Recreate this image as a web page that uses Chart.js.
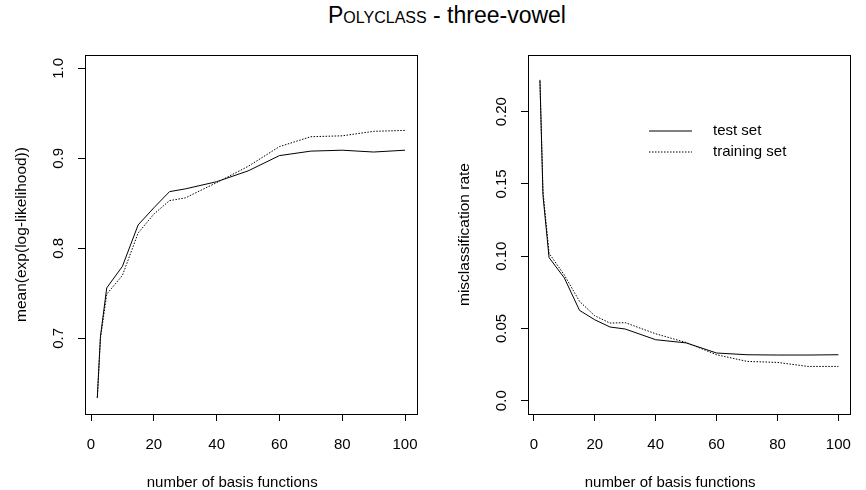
<!DOCTYPE html>
<html>
<head>
<meta charset="utf-8">
<title>POLYCLASS - three-vowel</title>
<script src="https://cdn.jsdelivr.net/npm/chart.js@4.4.0/dist/chart.umd.min.js"></script>
<style>
    html, body { margin: 0; padding: 0; background: #fff; }
    #wrap { position: relative; width: 866px; height: 490px; font-family: "Liberation Sans", Arial, sans-serif; color: #000; }
    #title { position: absolute; top: 0; left: 14px; width: 866px; text-align: center; font-size: 23px; line-height: 30px; }
    #title .sc { font-size: 16px; }
    .panel { position: absolute; top: 0; width: 433px; height: 490px; }
</style>
</head>
<body>
<div id="wrap">
    <div id="title">P<span class="sc">OLYCLASS</span> - three-vowel</div>
    <div class="panel" style="left:0"><canvas id="likChart"></canvas></div>
    <div class="panel" style="left:433px"><canvas id="errChart"></canvas></div>
</div>

<script>
// ---------------------------------------------------------
// Data
// ---------------------------------------------------------
const basisCounts = [2, 3, 5, 10, 15, 20, 25, 30, 40, 50, 60, 70, 80, 90, 100];

// left panel: mean(exp(log-likelihood))
const likTest  = [0.634, 0.702, 0.756, 0.780, 0.826, 0.845, 0.863, 0.866, 0.874, 0.886, 0.903, 0.908, 0.909, 0.907, 0.909];
const likTrain = [0.634, 0.700, 0.749, 0.770, 0.817, 0.838, 0.853, 0.856, 0.873, 0.891, 0.913, 0.924, 0.925, 0.930, 0.931];

// right panel: misclassification rate
const errTest  = [0.222, 0.142, 0.099, 0.085, 0.0625, 0.056, 0.051, 0.0496, 0.0422, 0.040, 0.033, 0.0318, 0.0316, 0.0316, 0.0318];
const errTrain = [0.221, 0.145, 0.102, 0.087, 0.0687, 0.0588, 0.0537, 0.054, 0.0463, 0.0403, 0.0318, 0.0272, 0.0265, 0.0237, 0.0237];

const seriesNames = ['test set', 'training set'];

// axis ticks and ranges
const xTicks = [0, 20, 40, 60, 80, 100];
const xRange = [-1.92, 103.92];
const xTitle = 'number of basis functions';
const likTicks = [0.7, 0.8, 0.9, 1.0];
const likTickLabels = ['0.7', '0.8', '0.9', '1.0'];
const likRange = [0.6159, 1.0148];
const errTicks = [0, 0.05, 0.10, 0.15, 0.20];
const errTickLabels = ['0.0', '0.05', '0.10', '0.15', '0.20'];
const errRange = [-0.0092, 0.2392];

// ---------------------------------------------------------
// Shared look
// ---------------------------------------------------------
const FONT = '"Liberation Sans", Arial, sans-serif';
Chart.defaults.font.family = FONT;
Chart.defaults.font.size = 15;
Chart.defaults.color = '#000';

// Draws the R style box, rotated y tick labels, x title and the plain legend
const rPlot = {
    id: 'rPlot',
    afterDraw(chart, args, opts) {
        const ctx = chart.ctx;
        const a = chart.chartArea;
        const y = chart.scales.y;
        ctx.save();

        // box round the plot region
        ctx.strokeStyle = '#000';
        ctx.lineWidth = 1;
        ctx.strokeRect(Math.round(a.left) + 0.5, Math.round(a.top) + 0.5,
            Math.round(a.right - a.left), Math.round(a.bottom - a.top));

        // y tick labels, reading bottom to top like R
        ctx.font = '15px ' + FONT;
        ctx.fillStyle = '#000';
        ctx.textAlign = 'center';
        ctx.textBaseline = 'alphabetic';
        opts.values.forEach((v, i) => {
            ctx.save();
            ctx.translate(a.left - 22, y.getPixelForValue(v));
            ctx.rotate(-Math.PI / 2);
            ctx.fillText(opts.labels[i], 0, 0);
            ctx.restore();
        });

        // x axis title (sits a bit left of the box centre in the original)
        ctx.fillText(xTitle, (a.left + a.right) / 2 - 19, 487);

        // legend without a frame
        if (opts.legend) {
            ctx.textAlign = 'left';
            ctx.textBaseline = 'middle';
            chart.data.datasets.forEach((ds, i) => {
                const ly = a.top + 76 + i * 21;
                ctx.beginPath();
                ctx.setLineDash(ds.borderDash || []);
                ctx.moveTo(a.left + 121, ly);
                ctx.lineTo(a.left + 164, ly);
                ctx.stroke();
                ctx.setLineDash([]);
                ctx.fillText(ds.label, a.left + 185, ly);
            });
        }
        ctx.restore();
    }
};

function makePanel(id, testVals, trainVals, yRange, yTicks, yLabels, yTitle, area, showLegend) {
    const toPoints = vals => basisCounts.map((x, i) => ({ x: x, y: vals[i] }));
    return new Chart(document.getElementById(id), {
        type: 'line',
        data: {
            datasets: [{
                label: seriesNames[0],
                data: toPoints(testVals),
                borderColor: '#000',
                borderWidth: 1,
                pointRadius: 0,
                tension: 0
            }, {
                label: seriesNames[1],
                data: toPoints(trainVals),
                borderColor: '#000',
                borderWidth: 1,
                borderDash: [1.5, 1.5],
                pointRadius: 0,
                tension: 0
            }]
        },
        options: {
            responsive: true,
            maintainAspectRatio: false,
            animation: false,
            events: [],
            layout: { padding: { left: 0, top: area.top, right: 433 - area.right, bottom: 0 } },
            plugins: {
                legend: { display: false },
                tooltip: { enabled: false },
                rPlot: { values: yTicks, labels: yLabels, legend: showLegend }
            },
            scales: {
                x: {
                    type: 'linear',
                    min: xRange[0],
                    max: xRange[1],
                    afterBuildTicks: s => { s.ticks = xTicks.map(v => ({ value: v })); },
                    afterFit: s => { s.height = 490 - area.bottom; },
                    grid: { drawOnChartArea: false, drawTicks: true, tickLength: 7, color: '#000', lineWidth: 1 },
                    border: { display: false },
                    ticks: { padding: 15, maxRotation: 0, callback: v => String(v) }
                },
                y: {
                    type: 'linear',
                    min: yRange[0],
                    max: yRange[1],
                    afterBuildTicks: s => { s.ticks = yTicks.map(v => ({ value: v })); },
                    afterFit: s => { s.width = area.left; },
                    grid: { drawOnChartArea: false, drawTicks: true, tickLength: 7, color: '#000', lineWidth: 1 },
                    border: { display: false },
                    ticks: { display: false },
                    title: { display: true, text: yTitle, font: { size: 15.5 }, padding: { top: area.titlePad, bottom: 0 } }
                }
            }
        },
        plugins: [rPlot]
    });
}

document.addEventListener('DOMContentLoaded', function() {
    makePanel('likChart', likTest, likTrain, likRange, likTicks, likTickLabels,
        'mean(exp(log-likelihood))', { left: 85, right: 421, top: 55, bottom: 414, titlePad: 12 }, false);
    makePanel('errChart', errTest, errTrain, errRange, errTicks, errTickLabels,
        'misclassification rate', { left: 95, right: 430, top: 55, bottom: 414, titlePad: 22 }, true);
});
</script>
</body>
</html>
